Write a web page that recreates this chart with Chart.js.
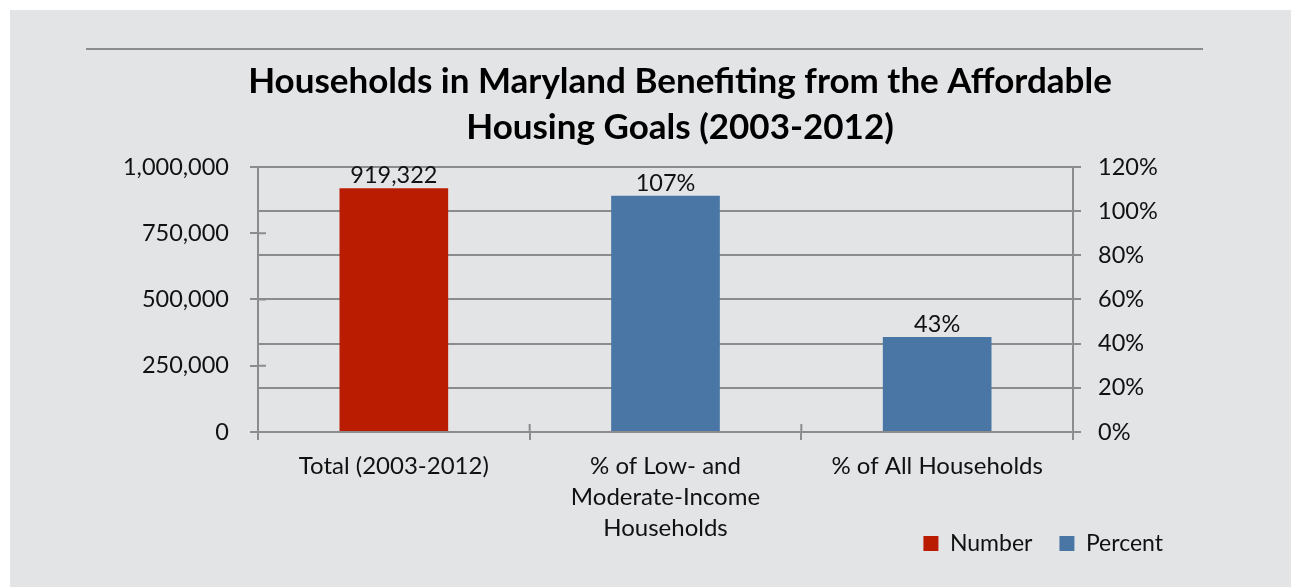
<!DOCTYPE html>
<html>
<head>
<meta charset="utf-8">
<script src="https://cdn.jsdelivr.net/npm/chart.js@4"></script>
<style>
  html, body { margin: 0; padding: 0; background: #ffffff; }
  #wrap { position: absolute; left: 10px; top: 10px; width: 1281px; height: 577px; background: #e3e4e6; }
</style>
</head>
<body>
<div id="wrap"><canvas id="myChart" width="1281" height="577"></canvas></div>
<script>
// Households in Maryland benefiting from the affordable housing goals

const categories = ['Total (2003-2012)', ['% of Low- and', 'Moderate-Income', 'Households'], '% of All Households'];
const numberValues = [919322, null, null];
const percentValues = [null, 107, 43];
const leftTicks = [0, 250000, 500000, 750000, 1000000];
const rightTicks = [0, 20, 40, 60, 80, 100, 120];

const red = '#b91c00';
const blue = '#4a76a5';
const gray = '#8c8c8c';
const font = 'Lato';

Chart.defaults.font.family = font;
Chart.defaults.color = '#111';

// line above the title, plus nudging title / legend boxes after layout
const frame = {
    id: 'frame',
    afterLayout(chart){
        // title centred a bit right of the canvas middle
        const t = chart.titleBlock;
        t.left = 2 * 670 - t.right;
        // legend sits beside the last line of the category labels
        const lg = chart.legend;
        lg.top -= 35;
        lg.bottom -= 35;
    },
    beforeDraw(chart){
        const c = chart.ctx;
        c.save();
        c.strokeStyle = gray;
        c.lineWidth = 2;
        c.beginPath();
        c.moveTo(76, 39);
        c.lineTo(1193, 39);
        c.stroke();
        c.restore();
    }
};

// tick marks that cross into the plot area
const innerTicks = {
    id: 'innerTicks',
    afterDraw(chart){
        const c = chart.ctx;
        const area = chart.chartArea;
        const y = chart.scales.y;
        const x = chart.scales.x;
        c.save();
        c.strokeStyle = gray;
        c.lineWidth = 2;
        c.beginPath();
        leftTicks.forEach(v => {
            const py = y.getPixelForValue(v);
            c.moveTo(area.left, py);
            c.lineTo(area.left + 8, py);
        });
        for (let i = 0; i <= categories.length; i++){
            const px = x.getPixelForValue(i - 0.5);
            c.moveTo(px, area.bottom);
            c.lineTo(px, area.bottom - 8);
        }
        c.stroke();
        c.restore();
    }
};

// value labels over the bars
const barLabels = {
    id: 'barLabels',
    afterDatasetsDraw(chart){
        const c = chart.ctx;
        c.save();
        c.font = `23.5px ${font}`;
        c.fillStyle = '#111';
        c.textAlign = 'center';
        c.textBaseline = 'bottom';
        chart.data.datasets.forEach((ds, di) => {
            const meta = chart.getDatasetMeta(di);
            meta.data.forEach((bar, i) => {
                const v = ds.data[i];
                if (v === null) return;
                const txt = di === 0 ? v.toLocaleString('en-US') : `${v}%`;
                c.fillText(txt, bar.x, bar.y - 1);
            });
        });
        c.restore();
    }
};

const ctx = document.getElementById('myChart').getContext('2d');

const myChart = new Chart(ctx, {
    type: 'bar',
    data: {
        labels: categories,
        datasets: [{
            label: 'Number',
            data: numberValues,
            backgroundColor: red,
            yAxisID: 'y'
        }, {
            label: 'Percent',
            data: percentValues,
            backgroundColor: blue,
            yAxisID: 'y1'
        }]
    },
    options: {
        responsive: false,
        animation: false,
        grouped: false,
        categoryPercentage: 0.5,
        barPercentage: 0.8,
        layout: {
            padding: {left: 0, right: 101, top: 0, bottom: -13}
        },
        scales: {
            x: {
                grid: {offset: true, drawOnChartArea: false, color: gray, lineWidth: 2, tickLength: 8},
                border: {color: gray, width: 2},
                ticks: {font: {size: 24, lineHeight: 1.29}, padding: 11, color: '#111', maxRotation: 0},
                afterFit(scale){ scale.height = 108; }
            },
            y: {
                position: 'left',
                min: 0,
                max: 1000000,
                afterBuildTicks(scale){ scale.ticks = leftTicks.map(v => ({value: v})); },
                grid: {drawOnChartArea: false, color: gray, lineWidth: 2, tickLength: 8},
                border: {color: gray, width: 2},
                ticks: {
                    font: {size: 23.5},
                    padding: 21,
                    color: '#111',
                    callback: v => v.toLocaleString('en-US')
                },
                afterFit(scale){ scale.width = 248; }
            },
            y1: {
                position: 'right',
                min: 0,
                max: 120,
                afterBuildTicks(scale){ scale.ticks = rightTicks.map(v => ({value: v})); },
                grid: {drawOnChartArea: true, color: gray, lineWidth: 2, tickLength: 8},
                border: {color: gray, width: 2},
                ticks: {
                    font: {size: 23.5},
                    padding: 17,
                    color: '#111',
                    callback: v => `${v}%`
                },
                afterFit(scale){ scale.width = 117; }
            }
        },
        plugins: {
            title: {
                display: true,
                text: ['Households in Maryland Benefiting from the Affordable', 'Housing Goals (2003-2012)'],
                font: {size: 35, weight: 'bold', lineHeight: 1.314},
                color: '#000',
                padding: {top: 49, bottom: 16}
            },
            legend: {
                position: 'bottom',
                align: 'end',
                labels: {
                    boxWidth: 15,
                    boxHeight: 15,
                    padding: 27,
                    color: '#111',
                    font: {size: 23}
                }
            },
            tooltip: {enabled: false}
        }
    },
    plugins: [frame, innerTicks, barLabels]
});
</script>
</body>
</html>
